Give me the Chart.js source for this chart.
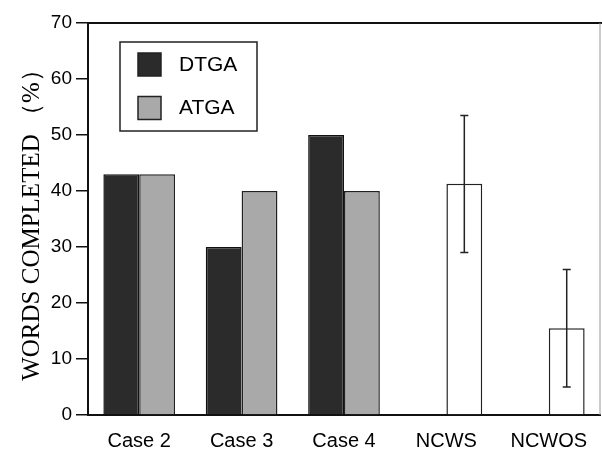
<!DOCTYPE html>
<html>
<head>
<meta charset="utf-8">
<script src="https://cdn.jsdelivr.net/npm/chart.js@4/dist/chart.umd.min.js"></script>
<style>
  html, body { margin: 0; padding: 0; background: #fff; }
  #wrap { width: 602px; height: 450px; }
</style>
</head>
<body>
<div id="wrap"><canvas id="chart"></canvas></div>
<script>
// categories and values
const categories = ['Case 2', 'Case 3', 'Case 4', 'NCWS', 'NCWOS'];
const dtga = [43, 30, 50, null, null];
const atga = [43, 40, 40, null, null];
const controls = [null, null, null, 41.3, 15.5];
const controlsLow = [null, null, null, 29, 5];
const controlsHigh = [null, null, null, 53.5, 26];
const yTicks = [0, 10, 20, 30, 40, 50, 60, 70];

const sansFont = '"Liberation Sans", Arial, sans-serif';

// top and right edges of the plot frame
const framePlugin = {
    id: 'frame',
    afterDraw(chart) {
        const { ctx, chartArea: a } = chart;
        ctx.save();
        ctx.strokeStyle = '#111';
        ctx.lineWidth = 2;
        ctx.beginPath();
        ctx.moveTo(a.left, a.top);
        ctx.lineTo(a.right + 2, a.top);
        ctx.stroke();
        ctx.strokeStyle = '#999';
        ctx.lineWidth = 1;
        ctx.beginPath();
        ctx.moveTo(a.right, a.top);
        ctx.lineTo(a.right, a.bottom);
        ctx.stroke();
        ctx.restore();
    }
};

// error bars on the control bars
const errorBarPlugin = {
    id: 'errorBars',
    afterDatasetsDraw(chart) {
        const { ctx } = chart;
        const y = chart.scales.y;
        const meta = chart.getDatasetMeta(2);
        ctx.save();
        ctx.strokeStyle = '#222';
        ctx.lineWidth = 1.5;
        meta.data.forEach((bar, i) => {
            if (controlsLow[i] == null) return;
            const yLo = y.getPixelForValue(controlsLow[i]);
            const yHi = y.getPixelForValue(controlsHigh[i]);
            const x = bar.x;
            ctx.beginPath();
            ctx.moveTo(x, yLo);
            ctx.lineTo(x, yHi);
            ctx.moveTo(x - 4, yLo);
            ctx.lineTo(x + 4, yLo);
            ctx.moveTo(x - 4, yHi);
            ctx.lineTo(x + 4, yHi);
            ctx.stroke();
        });
        ctx.restore();
    }
};

// boxed legend for the two case series
const boxLegendPlugin = {
    id: 'boxLegend',
    afterDraw(chart) {
        const { ctx } = chart;
        ctx.save();
        ctx.strokeStyle = '#222';
        ctx.lineWidth = 1.5;
        ctx.strokeRect(120, 42, 137, 89);
        [0, 1].forEach(i => {
            const ds = chart.data.datasets[i];
            const top = 53 + i * 43.5;
            ctx.fillStyle = ds.backgroundColor;
            ctx.fillRect(138, top, 23, 23);
            ctx.strokeRect(138, top, 23, 23);
            ctx.fillStyle = '#000';
            ctx.font = '21px ' + sansFont;
            ctx.textBaseline = 'middle';
            ctx.fillText(ds.label, 179, top + 12);
        });
        ctx.restore();
    }
};

new Chart(document.getElementById('chart'), {
    type: 'bar',
    data: {
        labels: categories,
        datasets: [
            {
                label: 'DTGA',
                data: dtga,
                stack: 'a',
                backgroundColor: '#2b2b2b',
                borderColor: '#111',
                borderWidth: 1.5
            },
            {
                label: 'ATGA',
                data: atga,
                stack: 'b',
                backgroundColor: '#a9a9a9',
                borderColor: '#222',
                borderWidth: 1.5
            },
            {
                label: 'Controls',
                data: controls,
                stack: 'b',
                backgroundColor: '#ffffff',
                borderColor: '#222',
                borderWidth: 1.5
            }
        ]
    },
    options: {
        responsive: true,
        maintainAspectRatio: false,
        animation: false,
        categoryPercentage: 0.7,
        barPercentage: 1.0,
        layout: { padding: { top: 23, right: 2, left: 0, bottom: 0 } },
        plugins: {
            legend: { display: false },
            tooltip: { enabled: false }
        },
        scales: {
            x: {
                grid: { display: false },
                border: { display: true, color: '#111', width: 2 },
                ticks: {
                    color: '#000',
                    padding: 6,
                    maxRotation: 0,
                    font: { family: sansFont, size: 20 }
                },
                afterFit(scale) { scale.height = 35; }
            },
            y: {
                min: 0,
                max: 70,
                afterBuildTicks(scale) {
                    scale.ticks = yTicks.map(v => ({ value: v }));
                },
                grid: {
                    drawOnChartArea: false,
                    drawTicks: true,
                    tickLength: 12,
                    color: '#111',
                    lineWidth: 1.5
                },
                border: { display: true, color: '#111', width: 2 },
                ticks: {
                    color: '#000',
                    padding: 4,
                    font: { family: sansFont, size: 19 }
                },
                title: {
                    display: true,
                    text: 'WORDS COMPLETED （%）',
                    color: '#000',
                    padding: { top: 17, bottom: 0 },
                    font: { family: '"Liberation Serif", "Times New Roman", serif', size: 25 }
                },
                afterFit(scale) { scale.width = 88; }
            }
        }
    },
    plugins: [framePlugin, errorBarPlugin, boxLegendPlugin]
});
</script>
</body>
</html>
